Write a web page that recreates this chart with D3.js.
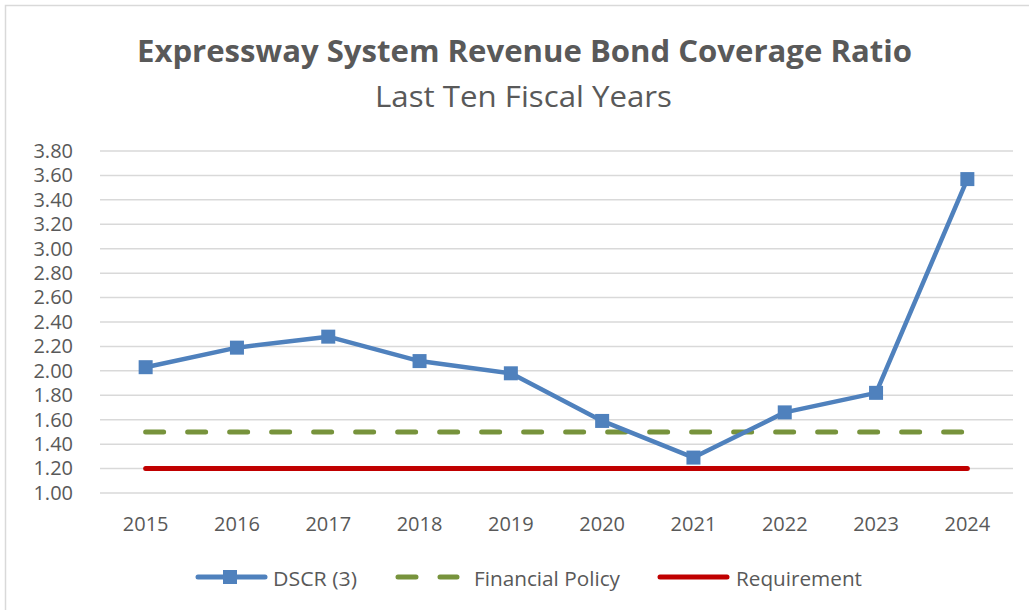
<!DOCTYPE html>
<html>
<head>
<meta charset="utf-8">
<script src="https://cdn.jsdelivr.net/npm/d3@7"></script>
<style>
  html, body { margin: 0; padding: 0; background: #fff; }
  svg text { font-family: "Open Sans", sans-serif; fill: #595959; }
</style>
</head>
<body>
<div id="chart"></div>
<script>
// chart data
const years = ['2015', '2016', '2017', '2018', '2019', '2020', '2021', '2022', '2023', '2024']
const dscr = [2.03, 2.19, 2.28, 2.08, 1.98, 1.59, 1.29, 1.66, 1.82, 3.57]
const financialPolicy = [1.50, 1.50, 1.50, 1.50, 1.50, 1.50, 1.50, 1.50, 1.50, 1.50]
const requirement = [1.20, 1.20, 1.20, 1.20, 1.20, 1.20, 1.20, 1.20, 1.20, 1.20]
const yTicks = [1.0, 1.2, 1.4, 1.6, 1.8, 2.0, 2.2, 2.4, 2.6, 2.8, 3.0, 3.2, 3.4, 3.6, 3.8]
const titleText = 'Expressway System Revenue Bond Coverage Ratio'
const subtitleText = 'Last Ten Fiscal Years'

const width = 1029
const height = 610
const margin = { top: 151, right: 16, bottom: 117, left: 100 }

const colors = { dscr: '#4F81BD', policy: '#77933C', req: '#C00000' }

const svg = d3.select('#chart').append('svg')
  .attr('width', width)
  .attr('height', height)

// chart area border
svg.append('rect')
  .attr('x', 5.5).attr('y', 5.5)
  .attr('width', width + 20).attr('height', height + 20)
  .attr('fill', 'none').attr('stroke', '#d9d9d9').attr('stroke-width', 1.5)

// titles
svg.append('text')
  .attr('x', 137).attr('y', 62)
  .attr('textLength', 775).attr('lengthAdjust', 'spacingAndGlyphs')
  .style('font-size', '30px').style('font-weight', 'bold')
  .text(titleText)

svg.append('text')
  .attr('x', 375).attr('y', 107)
  .attr('textLength', 297).attr('lengthAdjust', 'spacingAndGlyphs')
  .style('font-size', '30px')
  .text(subtitleText)

// scales
const x = d3.scaleBand()
  .domain(years)
  .range([margin.left, width - margin.right])

const y = d3.scaleLinear()
  .domain([1.0, 3.8])
  .range([height - margin.bottom, margin.top])

const cx = d => x(d) + x.bandwidth() / 2

// gridlines
svg.append('g')
  .selectAll('line')
  .data(yTicks)
  .join('line')
  .attr('x1', margin.left).attr('x2', width - margin.right)
  .attr('y1', d => y(d)).attr('y2', d => y(d))
  .attr('stroke', '#d9d9d9').attr('stroke-width', 1.5)

// y axis labels
const yAxis = d3.axisLeft(y).tickValues(yTicks).tickFormat(d3.format('.2f')).tickSize(0).tickPadding(0)
svg.append('g')
  .attr('transform', 'translate(73,0)')
  .call(yAxis)
  .call(g => g.select('.domain').remove())
  .call(g => g.selectAll('text').style('font-size', '20px').attr('fill', '#595959').style('font-family', '"Open Sans", sans-serif'))

// x axis labels
const xAxis = d3.axisBottom(x).tickSize(0).tickPadding(0)
svg.append('g')
  .attr('transform', 'translate(0,517)')
  .call(xAxis)
  .call(g => g.select('.domain').remove())
  .call(g => g.selectAll('text').style('font-size', '20px').attr('fill', '#595959').style('font-family', '"Open Sans", sans-serif'))

const line = d3.line()
  .x((d, i) => cx(years[i]))
  .y(d => y(d))

// requirement line
svg.append('path')
  .datum(requirement)
  .attr('d', line)
  .attr('fill', 'none')
  .attr('stroke', colors.req).attr('stroke-width', 5)
  .attr('stroke-linecap', 'round')

// financial policy dashed line
svg.append('path')
  .datum(financialPolicy)
  .attr('d', line)
  .attr('fill', 'none')
  .attr('stroke', colors.policy).attr('stroke-width', 5)
  .attr('stroke-linecap', 'round')
  .attr('stroke-dasharray', '18 24')

// DSCR line with square markers
svg.append('path')
  .datum(dscr)
  .attr('d', line)
  .attr('fill', 'none')
  .attr('stroke', colors.dscr).attr('stroke-width', 4.5)
  .attr('stroke-linejoin', 'round')

svg.append('g')
  .selectAll('rect')
  .data(dscr)
  .join('rect')
  .attr('x', (d, i) => cx(years[i]) - 7)
  .attr('y', d => y(d) - 7)
  .attr('width', 14).attr('height', 14)
  .attr('fill', colors.dscr)

// legend
const legY = 577
const legend = svg.append('g')

legend.append('line')
  .attr('x1', 198).attr('x2', 265).attr('y1', legY).attr('y2', legY)
  .attr('stroke', colors.dscr).attr('stroke-width', 5).attr('stroke-linecap', 'round')
legend.append('rect')
  .attr('x', 223).attr('y', legY - 7).attr('width', 14).attr('height', 14)
  .attr('fill', colors.dscr)
legend.append('text')
  .attr('x', 273).attr('y', 586)
  .attr('textLength', 84).attr('lengthAdjust', 'spacingAndGlyphs')
  .style('font-size', '20px').text('DSCR (3)')

legend.append('line')
  .attr('x1', 398).attr('x2', 457).attr('y1', legY).attr('y2', legY)
  .attr('stroke', colors.policy).attr('stroke-width', 5).attr('stroke-linecap', 'round')
  .attr('stroke-dasharray', '18 24')
legend.append('text')
  .attr('x', 474).attr('y', 586)
  .attr('textLength', 146).attr('lengthAdjust', 'spacingAndGlyphs')
  .style('font-size', '20px').text('Financial Policy')

legend.append('line')
  .attr('x1', 660).attr('x2', 727).attr('y1', legY).attr('y2', legY)
  .attr('stroke', colors.req).attr('stroke-width', 5).attr('stroke-linecap', 'round')
legend.append('text')
  .attr('x', 736).attr('y', 586)
  .attr('textLength', 126).attr('lengthAdjust', 'spacingAndGlyphs')
  .style('font-size', '20px').text('Requirement')
</script>
</body>
</html>
